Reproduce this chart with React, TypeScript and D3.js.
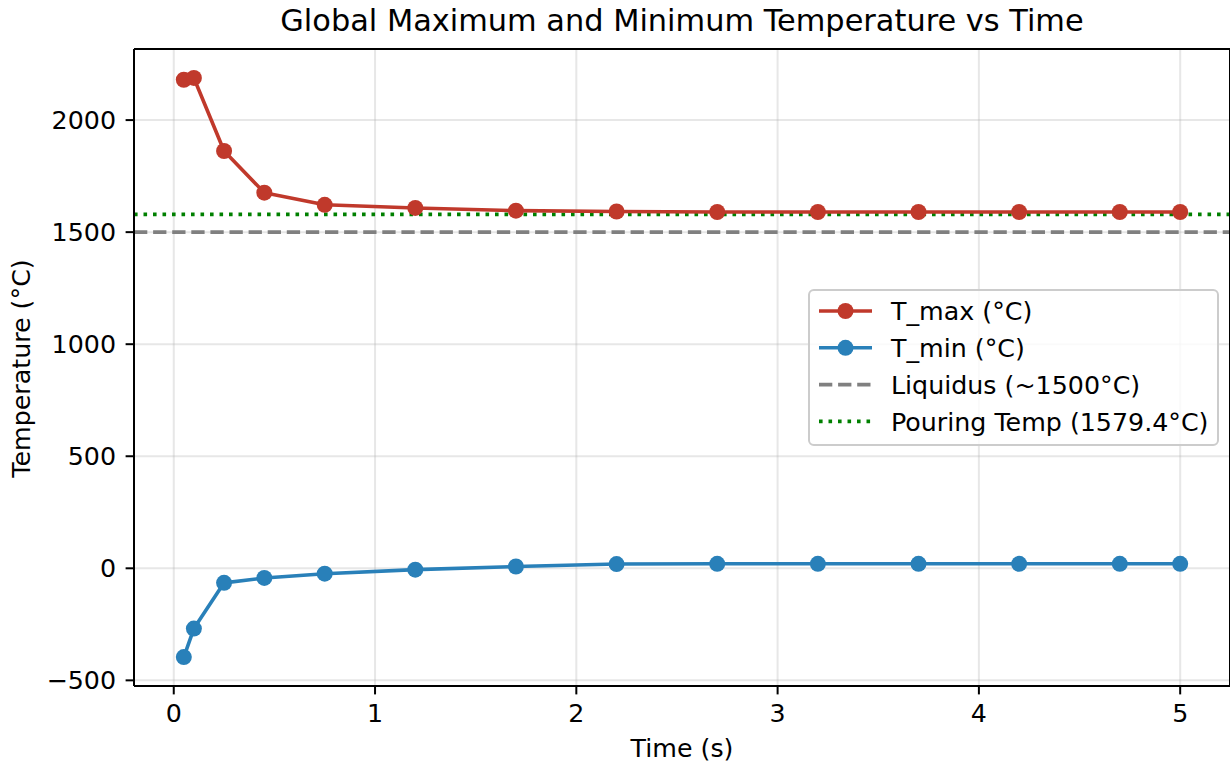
import React from "react";
import * as d3 from "d3";

const times = [0.05, 0.1, 0.25, 0.45, 0.75, 1.2, 1.7, 2.2, 2.7, 3.2, 3.7, 4.2, 4.7, 5.0];
const tMax = [2180, 2188, 1862, 1676, 1622, 1608, 1596, 1592, 1590, 1590, 1590, 1590, 1590, 1590];
const tMin = [-396, -269, -65, -43, -24, -6, 8, 19, 20, 20, 20, 20, 20, 20];
const liquidus = 1500;
const pouring = 1579.4;
const xTicks = [0, 1, 2, 3, 4, 5];
const yTicks = [-500, 0, 500, 1000, 1500, 2000];
const legendLabels = ["T_max (°C)", "T_min (°C)", "Liquidus (~1500°C)", "Pouring Temp (1579.4°C)"];

const W = 1230;
const H = 764;
const L = 134, R = 1230, T = 49, B = 686;
const RED = "#c0392b";
const BLUE = "#2980b9";
const FONT = "DejaVu Sans, Verdana, sans-serif";
const FS = 25.3;
const TFS = 30.4;

export default function App() {
  const [x0, x1] = d3.extent(times) as [number, number];
  const xPad = (x1 - x0) * 0.05;
  const x = d3.scaleLinear().domain([x0 - xPad, x1 + xPad]).range([L, R]);
  const allY = [...tMax, ...tMin];
  const [y0, y1] = d3.extent(allY) as [number, number];
  const yPad = (y1 - y0) * 0.05;
  const y = d3.scaleLinear().domain([y0 - yPad, y1 + yPad]).range([B, T]);

  const line = d3.line<number>().x((_, i) => x(times[i])).y((d) => y(d));

  const legendRowY = (i: number) => 311 + i * 36.8;

  return (
    <svg width={W} height={H} style={{ position: "absolute", left: 0, top: 0, background: "#fff" }} fontFamily={FONT}>
      <defs>
        <clipPath id="plot">
          <rect x={L} y={T} width={R - L} height={B - T} />
        </clipPath>
      </defs>
      <rect x={0} y={0} width={W} height={H} fill="#fff" />
      {/* grid */}
      <g stroke="#b0b0b0" strokeOpacity={0.3} strokeWidth={2}>
        {xTicks.map((t) => (
          <line key={"gx" + t} x1={x(t)} x2={x(t)} y1={T} y2={B} />
        ))}
        {yTicks.map((t) => (
          <line key={"gy" + t} x1={L} x2={R} y1={y(t)} y2={y(t)} />
        ))}
      </g>
      <g clipPath="url(#plot)">
        {/* reference lines */}
        <line x1={L} x2={R} y1={y(liquidus)} y2={y(liquidus)} stroke="#808080" strokeWidth={3.6} strokeDasharray="13.3,5.8" />
        <line x1={L} x2={R} y1={y(pouring)} y2={y(pouring)} stroke="#008000" strokeWidth={3.6} strokeDasharray="3.6,5.9" />
        {/* series */}
        <path d={line(tMax) || ""} fill="none" stroke={RED} strokeWidth={3.6} strokeLinejoin="round" />
        {tMax.map((v, i) => (
          <circle key={"mx" + i} cx={x(times[i])} cy={y(v)} r={8} fill={RED} />
        ))}
        <path d={line(tMin) || ""} fill="none" stroke={BLUE} strokeWidth={3.6} strokeLinejoin="round" />
        {tMin.map((v, i) => (
          <circle key={"mn" + i} cx={x(times[i])} cy={y(v)} r={8} fill={BLUE} />
        ))}
      </g>
      {/* spines */}
      <g stroke="#000" strokeWidth={2} fill="none">
        <line x1={L} x2={L} y1={T} y2={B} />
        <line x1={L} x2={R} y1={B} y2={B} />
        <line x1={L} x2={R} y1={T} y2={T} />
        <line x1={R} x2={R} y1={T} y2={B} />
      </g>
      {/* x ticks */}
      {xTicks.map((t) => (
        <g key={"xt" + t}>
          <line x1={x(t)} x2={x(t)} y1={B} y2={B + 8.4} stroke="#000" strokeWidth={2} />
          <text x={x(t)} y={722} textAnchor="middle" fontSize={FS} fill="#000">
            {t}
          </text>
        </g>
      ))}
      {/* y ticks */}
      {yTicks.map((t) => (
        <g key={"yt" + t}>
          <line x1={L - 8.4} x2={L} y1={y(t)} y2={y(t)} stroke="#000" strokeWidth={2} />
          <text x={116} y={y(t)} dy="0.36em" textAnchor="end" fontSize={FS} fill="#000">
            {t < 0 ? "\u2212" + Math.abs(t) : t}
          </text>
        </g>
      ))}
      {/* labels */}
      <text x={(L + R) / 2} y={757} textAnchor="middle" fontSize={FS} fill="#000">
        Time (s)
      </text>
      <text transform={`translate(30, ${(T + B) / 2 + 1}) rotate(-90)`} textAnchor="middle" fontSize={FS} fill="#000">
        Temperature (°C)
      </text>
      <text x={(L + R) / 2} y={31} textAnchor="middle" fontSize={TFS} fill="#000">
        Global Maximum and Minimum Temperature vs Time
      </text>
      {/* legend */}
      <g>
        <rect x={809} y={290} width={409} height={155} rx={4.8} fill="#fff" fillOpacity={0.8} stroke="#cccccc" strokeWidth={2} />
        {legendLabels.map((lab, i) => {
          const cy = legendRowY(i);
          let handle;
          if (i === 0 || i === 1) {
            const c = i === 0 ? RED : BLUE;
            handle = (
              <g>
                <line x1={819} x2={872} y1={cy} y2={cy} stroke={c} strokeWidth={3.6} />
                <circle cx={845.5} cy={cy} r={8} fill={c} />
              </g>
            );
          } else if (i === 2) {
            handle = <line x1={819} x2={872} y1={cy} y2={cy} stroke="#808080" strokeWidth={3.6} strokeDasharray="13.3,5.8" />;
          } else {
            handle = <line x1={819} x2={872} y1={cy} y2={cy} stroke="#008000" strokeWidth={3.6} strokeDasharray="3.6,5.9" />;
          }
          return (
            <g key={"lg" + i}>
              {handle}
              <text x={891} y={cy} dy="0.36em" fontSize={FS} fill="#000">
                {lab}
              </text>
            </g>
          );
        })}
      </g>
    </svg>
  );
}
